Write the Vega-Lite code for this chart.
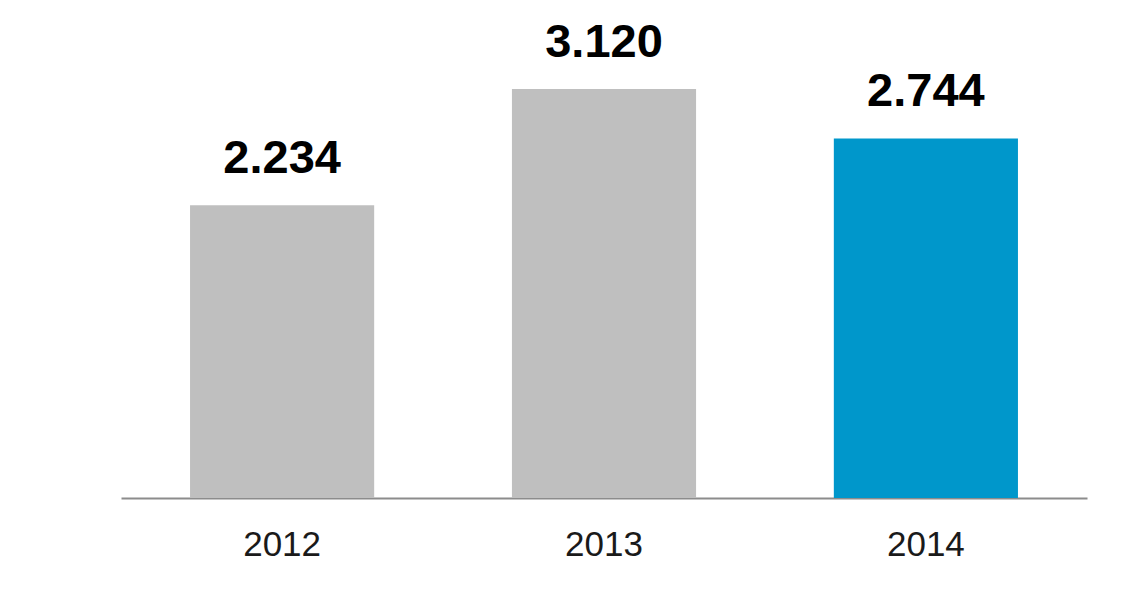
{
  "$schema": "https://vega.github.io/schema/vega-lite/v6.json",
  "width": 966,
  "height": 498,
  "autosize": {"type": "none"},
  "padding": {"left": 121, "top": 0, "right": 41, "bottom": 93},
  "background": "white",
  "config": {"view": {"stroke": null}, "font": "Liberation Sans"},
  "data": {"values": [
    {"year": "2012", "value": 2.234, "label": "2.234", "highlight": "no"},
    {"year": "2013", "value": 3.120, "label": "3.120", "highlight": "no"},
    {"year": "2014", "value": 2.744, "label": "2.744", "highlight": "yes"}
  ]},
  "encoding": {
    "x": {
      "field": "year", "type": "nominal", "sort": null,
      "scale": {"paddingInner": 0.428, "paddingOuter": 0.2145},
      "axis": {
        "title": null, "labelAngle": 0, "ticks": false, "tickSize": 0,
        "domainColor": "#8c8c8c", "domainWidth": 2,
        "labelFont": "Liberation Sans", "labelFontSize": 35, "labelColor": "#1a1a1a",
        "labelBaseline": "alphabetic", "labelPadding": 57, "grid": false
      }
    },
    "y": {
      "field": "value", "type": "quantitative",
      "scale": {"domain": [0, 3.8], "nice": false},
      "axis": null
    }
  },
  "layer": [
    {
      "mark": {"type": "bar"},
      "encoding": {
        "color": {
          "field": "highlight", "type": "nominal",
          "scale": {"domain": ["no", "yes"], "range": ["#bfbfbf", "#0097cb"]},
          "legend": null
        }
      }
    },
    {
      "mark": {"type": "text", "baseline": "alphabetic", "dy": -32, "fontSize": 47, "fontWeight": "bold", "color": "#000000", "font": "Liberation Sans"},
      "encoding": {"text": {"field": "label"}}
    }
  ]
}
